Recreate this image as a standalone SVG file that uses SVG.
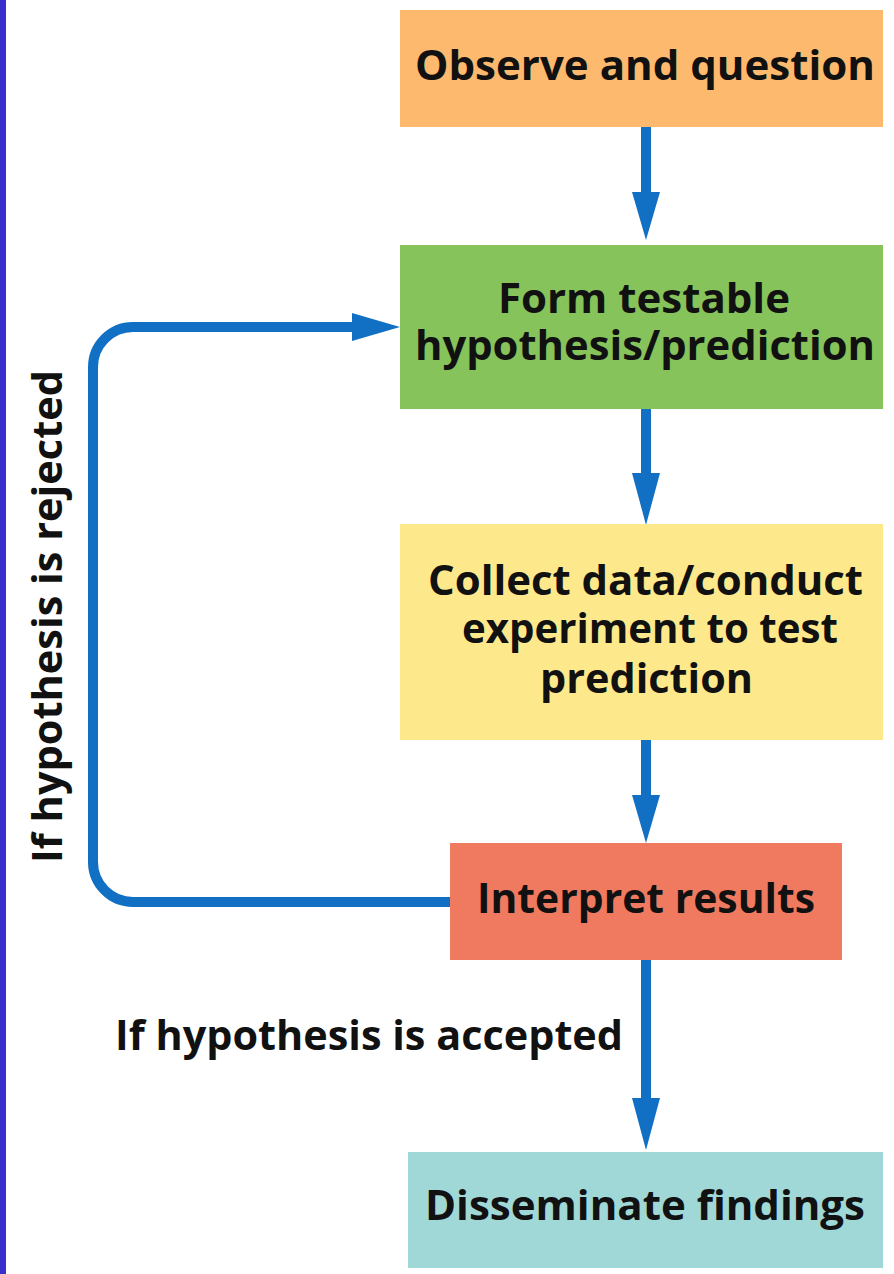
<svg xmlns="http://www.w3.org/2000/svg" width="894" height="1274" viewBox="0 0 894 1274">
<style>
.t{font-family:"Open Sans","Noto Sans","Liberation Sans",sans-serif;font-weight:700;font-size:42px;fill:#111;text-anchor:middle}
.a{fill:none;stroke:#1170c4;stroke-width:10}
.h{fill:#1170c4}
</style>
<rect x="0" y="0" width="894" height="1274" fill="#fff"/>
<rect x="0" y="0" width="6" height="1274" fill="#3a2fcc"/>
<g id="connectors">
<line class="a" x1="646" y1="127" x2="646" y2="194"/>
<polygon class="h" points="632,192 660,192 646,240"/>
<line class="a" x1="646" y1="409" x2="646" y2="475"/>
<polygon class="h" points="632,473 660,473 646,525"/>
<line class="a" x1="646" y1="740" x2="646" y2="797"/>
<polygon class="h" points="632,795 660,795 646,843"/>
<line class="a" x1="646" y1="960" x2="646" y2="1100"/>
<polygon class="h" points="632,1098 660,1098 646,1150"/>
<path class="a" d="M450,902 H133 A40,40 0 0 1 93,862 V367 A40,40 0 0 1 133,327 H354"/>
<polygon class="h" points="352,313 400,327 352,341"/>
</g>
<g id="observe">
<rect x="400" y="10" width="483" height="117" fill="#fdb96d"/>
<text class="t" x="645" y="80" textLength="460" lengthAdjust="spacingAndGlyphs">Observe and question</text>
</g>
<g id="hypothesis">
<rect x="400" y="245" width="483" height="164" fill="#86c35a"/>
<text class="t" x="644" y="313" textLength="292" lengthAdjust="spacingAndGlyphs">Form testable</text>
<text class="t" x="645" y="360" textLength="460" lengthAdjust="spacingAndGlyphs">hypothesis/prediction</text>
</g>
<g id="collect">
<rect x="400" y="524" width="483" height="216" fill="#fde98b"/>
<text class="t" x="645.5" y="595" textLength="435" lengthAdjust="spacingAndGlyphs">Collect data/conduct</text>
<text class="t" x="650" y="643" textLength="376" lengthAdjust="spacingAndGlyphs">experiment to test</text>
<text class="t" x="646.5" y="693" textLength="213" lengthAdjust="spacingAndGlyphs">prediction</text>
</g>
<g id="interpret">
<rect x="450" y="843" width="392" height="117" fill="#f07a60"/>
<text class="t" x="646" y="913" textLength="338" lengthAdjust="spacingAndGlyphs">Interpret results</text>
</g>
<g id="disseminate">
<rect x="408" y="1152" width="475" height="116" fill="#a0d8d8"/>
<text class="t" x="645" y="1220" textLength="440" lengthAdjust="spacingAndGlyphs">Disseminate findings</text>
</g>
<g id="labels">
<text class="t" x="369" y="1050" textLength="508" lengthAdjust="spacingAndGlyphs">If hypothesis is accepted</text>
<text class="t" transform="translate(62,616.5) rotate(-90)" x="0" y="0" textLength="493" lengthAdjust="spacingAndGlyphs">If hypothesis is rejected</text>
</g>
</svg>
